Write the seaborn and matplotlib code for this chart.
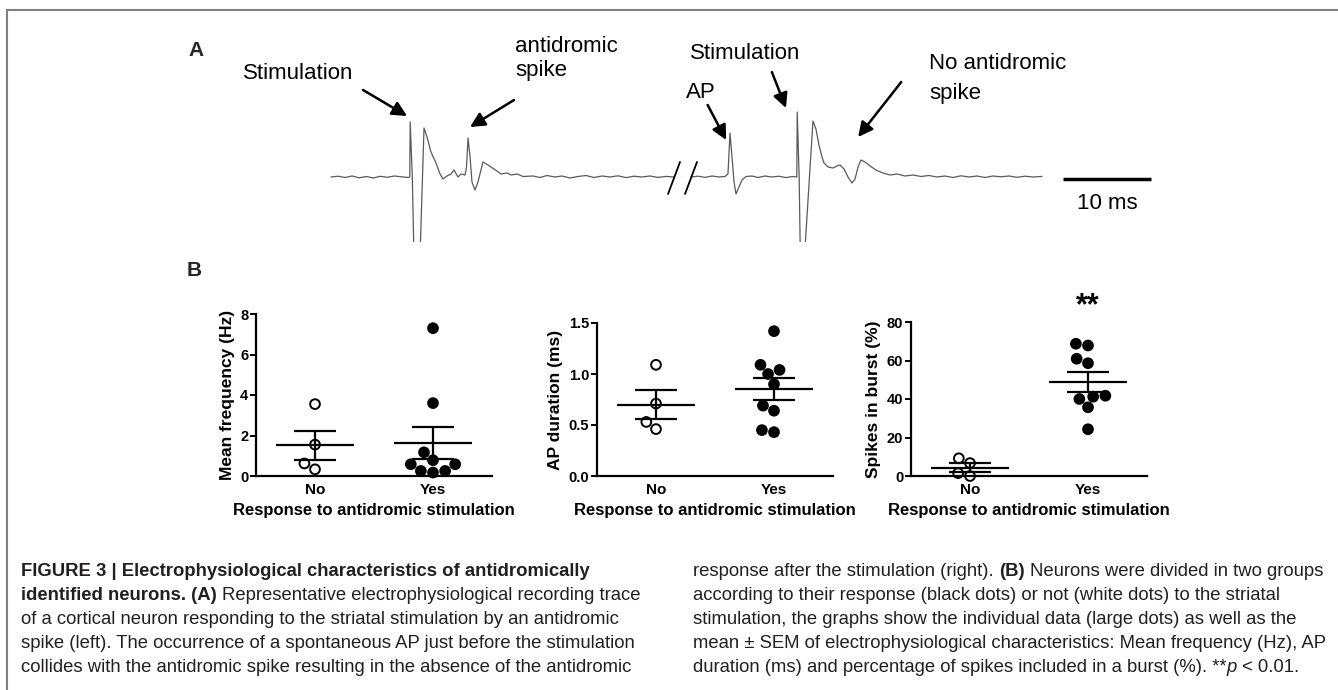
import numpy as np
import pandas as pd
import matplotlib
matplotlib.use("Agg")
import matplotlib.pyplot as plt
from matplotlib.lines import Line2D
import seaborn as sns

# ---------------------------------------------------------------
# Panel A : enregistrement (temps en ms, potentiel en u.a.)
# ---------------------------------------------------------------
trace1_t = [0.0, 0.8, 1.6, 2.4, 3.2, 4.0, 4.8, 5.6, 6.4, 7.2, 8.0, 8.8, 8.95, 9.0,
            9.24, 9.45, 10.08, 10.57, 10.91, 11.36, 11.93, 12.39, 12.73, 13.18, 13.64,
            13.98, 14.43, 14.77, 15.23, 15.40, 15.57, 15.80, 16.02, 16.36, 16.70, 17.27,
            17.84, 18.52, 19.32, 20.0, 20.45, 21.14, 21.82, 22.95, 23.75, 24.55, 25.45,
            26.25, 27.16, 28.07, 28.98, 29.89, 30.80, 31.70, 32.61, 33.52, 34.43, 35.34,
            36.25, 37.16, 38.07, 38.98]
trace1_v = [0, 0.8, -0.5, 1, -0.8, 0.5, -1, 0.7, -0.3, 1, 0.2, -0.5, 0, 55,
            0, -90, -90, 49, 40, 25, 14, 3, -2, 1, 3,
            7, 0, 3, 2, 10, 39, 20, -5, -13, -5, 15,
            12, 8, 3, 4, 2, 3, 0.5, 1, -0.5, 1.5, 0,
            1, -1, 0.5, 1.5, -0.5, 1, 0, 1.2, -0.6, 0.8, 0,
            1, -0.4, 0.6, 0]

trace2_t = [40.91, 41.70, 42.50, 43.30, 44.09, 44.77, 45.11, 45.34, 45.57, 45.80,
            46.02, 46.36, 46.70, 47.16, 47.84, 48.52, 49.32, 50.11, 50.91, 51.70,
            52.39, 52.93, 52.98, 53.20, 53.35, 53.73, 54.77, 55.11, 55.45, 55.80,
            56.02, 56.48, 57.05, 57.50, 57.84, 58.30, 58.75, 59.20, 59.55, 59.89,
            60.23, 60.68, 61.25, 61.93, 62.73, 63.52, 64.32, 65.23, 66.14, 67.05,
            67.95, 68.86, 69.77, 70.68, 71.59, 72.50, 73.41, 74.32, 75.23, 76.14,
            77.05, 77.95, 78.86, 79.77, 80.80]
trace2_v = [0, 0.8, -0.4, 1, 0, 0.5, 3, 44, 20, -5,
            -17, -10, -3, 0.5, 1, -0.5, 1, 0, 0.8, -0.6,
            0.5, 0, 65, 0, -90, -90, 56, 48, 32, 20,
            14, 10, 9, 11, 12, 8, 0, -6, -2, 10,
            17, 15, 11, 7, 4, 2, 3, 1, 2, 0.5,
            1.5, 0, 1, -0.5, 1.2, 0, 1, -0.5, 1, 0.2,
            1, -0.3, 0.8, 0, 0.6]

# ---------------------------------------------------------------
# Panel B : caracteristiques par groupe
# ---------------------------------------------------------------
groupes = ["No", "Yes"]
freq_no = [3.55, 1.55, 0.62, 0.33]
freq_yes = [7.3, 3.6, 1.17, 0.78, 0.58, 0.58, 0.25, 0.25, 0.17]
duree_no = [1.09, 0.71, 0.53, 0.46]
duree_yes = [1.42, 1.09, 1.04, 1.00, 0.90, 0.69, 0.64, 0.45, 0.43]
burst_no = [9.2, 6.7, 1.5, 0.0]
burst_yes = [68.7, 67.8, 60.9, 58.6, 41.7, 41.2, 40.0, 35.7, 24.3]

W, H = 1338, 690
sns.set_theme(style="ticks")
plt.rcParams["font.family"] = ["Liberation Sans", "DejaVu Sans"]

fig = plt.figure(figsize=(W / 100, H / 100), dpi=100)
fig.patch.set_facecolor("white")


def rect(x0, y0, x1, y1):
    # rectangle en pixels (origine en haut a gauche) -> fraction de figure
    return [x0 / W, 1 - y1 / H, (x1 - x0) / W, (y1 - y0) / H]


# cadre gris (haut et gauche)
fig.add_artist(Line2D([7 / W, 1], [1 - 10 / H, 1 - 10 / H], color="#808080", lw=1.5,
                      transform=fig.transFigure))
fig.add_artist(Line2D([7 / W, 7 / W], [0, 1 - 10 / H], color="#808080", lw=1.5,
                      transform=fig.transFigure))

# ---------------------------------------------------------------
# Panel A
# ---------------------------------------------------------------
px_ms, t0_px, base_px = 8.8, 331, 177
axA = fig.add_axes(rect(180, 20, 1200, 242))
axA.set_xlim((180 - t0_px) / px_ms, (1200 - t0_px) / px_ms)
axA.set_ylim(base_px - 242, base_px - 20)
axA.axis("off")

for tt, vv in [(trace1_t, trace1_v), (trace2_t, trace2_v)]:
    sns.lineplot(x=tt, y=vv, sort=False, estimator=None, color="#5a5a5a", lw=0.9, ax=axA)

# coupure temporelle //
for tb in [38.3, 40.23]:
    axA.plot([tb, tb + 1.36], [-17, 15], color="black", lw=1.3, clip_on=False)

# barre d'echelle 10 ms
axA.plot([83.2, 93.2], [-2, -2], color="black", lw=2.5, solid_capstyle="butt")
axA.text(88.2, -26, "10 ms", ha="center", va="center", fontsize=16, color="black")

lab = dict(fontsize=16, color="black", ha="left", va="center")
axA.text(-10.0, 104, "Stimulation", **lab)
axA.text(20.9, 131, "antidromic", **lab)
axA.text(20.9, 107, "spike", **lab)
axA.text(40.8, 124, "Stimulation", **lab)
axA.text(40.3, 85, "AP", **lab)
axA.text(68.0, 114, "No antidromic", **lab)
axA.text(68.0, 84, "spike", **lab)

fleche = dict(arrowstyle="-|>", color="black", lw=1.8, mutation_scale=22,
              shrinkA=0, shrinkB=0)
for tail, tip in [((3.64, 87), (8.64, 61)),
                  ((20.8, 77), (15.8, 50)),
                  ((42.8, 72), (44.9, 37)),
                  ((50.1, 105), (51.7, 69)),
                  ((64.8, 95), (59.9, 40))]:
    axA.annotate("", xy=tip, xytext=tail, arrowprops=fleche, annotation_clip=False)

fig.text(188 / W, 1 - 50 / H, "A", fontsize=15, fontweight="bold", ha="left", va="center")
fig.text(187 / W, 1 - 270 / H, "B", fontsize=15, fontweight="bold", ha="left", va="center")

# ---------------------------------------------------------------
# Panel B
# ---------------------------------------------------------------
def panneau(box, val_no, val_yes, ylim, yticks, ylabel, fmt):
    ax = fig.add_axes(rect(*box))
    df = pd.DataFrame({"groupe": ["No"] * len(val_no) + ["Yes"] * len(val_yes),
                       "valeur": val_no + val_yes})
    sns.swarmplot(data=df, x="groupe", y="valeur", hue="groupe", order=groupes,
                  hue_order=groupes, palette={"No": "white", "Yes": "black"},
                  edgecolor="black", linewidth=1.4, size=7, legend=False, ax=ax, zorder=2)
    for coll in ax.collections:
        coll.set_clip_on(False)
    for i, vals in enumerate([val_no, val_yes]):
        m = np.mean(vals)
        s = np.std(vals, ddof=1) / np.sqrt(len(vals))
        ax.hlines(m, i - 0.33, i + 0.33, color="black", lw=1.6, zorder=4)
        ax.vlines(i, m - s, m + s, color="black", lw=1.6, zorder=4)
        ax.hlines([m - s, m + s], i - 0.175, i + 0.175, color="black", lw=1.6, zorder=4)
    ax.set_xlim(-0.5, 1.5)
    ax.set_ylim(*ylim)
    ax.set_yticks(yticks)
    ax.set_yticklabels([fmt.format(v) for v in yticks])
    sns.despine(ax=ax)
    for sp in ["left", "bottom"]:
        ax.spines[sp].set_linewidth(1.6)
        ax.spines[sp].set_color("black")
    ax.tick_params(axis="y", length=4, width=1.4, labelsize=10.5, pad=1.5, colors="black")
    ax.tick_params(axis="x", length=0, labelsize=11, pad=5, colors="black")
    for t in ax.get_xticklabels() + ax.get_yticklabels():
        t.set_fontweight("bold")
    ax.set_ylabel(ylabel, fontsize=12.5, fontweight="bold", labelpad=4, color="black")
    ax.set_xlabel("Response to antidromic stimulation", fontsize=12, fontweight="bold",
                  labelpad=4, color="black")
    ax.set_facecolor("none")
    return ax


panneau((256, 314, 492, 476), freq_no, freq_yes, (0, 8), [0, 2, 4, 6, 8],
        "Mean frequency (Hz)", "{:g}")
panneau((597, 323, 833, 476), duree_no, duree_yes, (0, 1.5), [0.0, 0.5, 1.0, 1.5],
        "AP duration (ms)", "{:.1f}")
ax3 = panneau((911, 322, 1147, 476), burst_no, burst_yes, (0, 80), [0, 20, 40, 60, 80],
              "Spikes in burst (%)", "{:g}")
ax3.text(1, 88, "**", ha="center", va="center", fontsize=22, fontweight="bold",
         color="black", clip_on=False)

# ---------------------------------------------------------------
# Legende de la figure
# ---------------------------------------------------------------
renderer = fig.canvas.get_renderer()
TAILLE = 13.3
COUL = "#231f20"


def largeur(s, wt="normal", st="normal"):
    t = fig.text(0, 0, s, fontsize=TAILLE, fontweight=wt, fontstyle=st)
    w = t.get_window_extent(renderer).width
    t.remove()
    return w


def ligne(x, y, morceaux):
    for s, wt, st in morceaux:
        esp = largeur("a a", wt) - largeur("aa", wt)
        x += (len(s) - len(s.lstrip(" "))) * esp
        t = fig.text(x / W, 1 - y / H, s.strip(" "), fontsize=TAILLE, fontweight=wt,
                     fontstyle=st, ha="left", va="center", color=COUL)
        x += t.get_window_extent(renderer).width
        x += (len(s) - len(s.rstrip(" "))) * esp


N, B, I = "normal", "bold", "italic"
ys = [572, 596, 620, 644, 667]
gauche = [
    [("FIGURE 3 | Electrophysiological characteristics of antidromically", B, N)],
    [("identified neurons. (A)", B, N),
     (" Representative electrophysiological recording trace", N, N)],
    [("of a cortical neuron responding to the striatal stimulation by an antidromic", N, N)],
    [("spike (left). The occurrence of a spontaneous AP just before the stimulation", N, N)],
    [("collides with the antidromic spike resulting in the absence of the antidromic", N, N)],
]
droite = [
    [("response after the stimulation (right). ", N, N), ("(B)", B, N),
     (" Neurons were divided in two groups", N, N)],
    [("according to their response (black dots) or not (white dots) to the striatal", N, N)],
    [("stimulation, the graphs show the individual data (large dots) as well as the", N, N)],
    [("mean \u00b1 SEM of electrophysiological characteristics: Mean frequency (Hz), AP", N, N)],
    [("duration (ms) and percentage of spikes included in a burst (%). **", N, N),
     ("p", N, I), (" < 0.01.", N, N)],
]
for y, m in zip(ys, gauche):
    ligne(21, y, m)
for y, m in zip(ys, droite):
    ligne(693, y, m)

fig.savefig("out.png", dpi=100, facecolor="white")
